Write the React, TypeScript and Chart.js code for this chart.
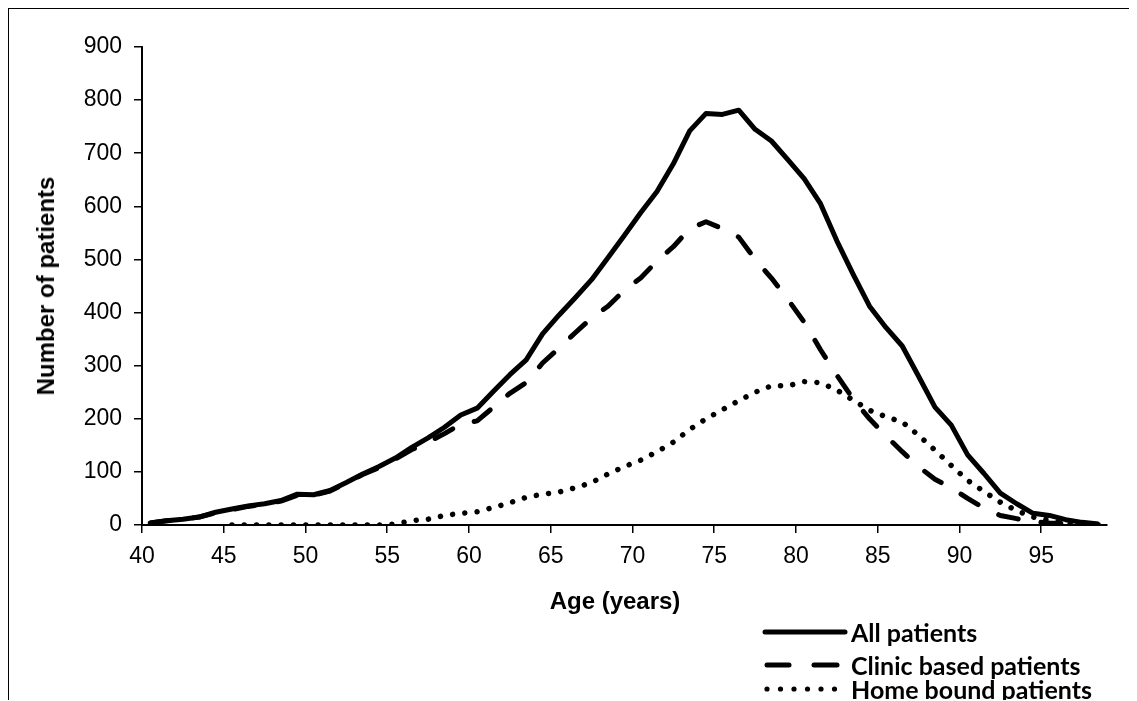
import React, { useEffect, useRef } from "react";
import { Chart, registerables } from "chart.js";

Chart.register(...registerables);

// Age (years), one value per year band
const ages = [
  40.5, 41.5, 42.5, 43.5, 44.5, 45.5, 46.5, 47.5, 48.5, 49.5,
  50.5, 51.5, 52.5, 53.5, 54.5, 55.5, 56.5, 57.5, 58.5, 59.5,
  60.5, 61.5, 62.5, 63.5, 64.5, 65.5, 66.5, 67.5, 68.5, 69.5,
  70.5, 71.5, 72.5, 73.5, 74.5, 75.5, 76.5, 77.5, 78.5, 79.5,
  80.5, 81.5, 82.5, 83.5, 84.5, 85.5, 86.5, 87.5, 88.5, 89.5,
  90.5, 91.5, 92.5, 93.5, 94.5, 95.5, 96.5, 97.5, 98.5,
];

const allPatients = [
  4, 8, 11, 15, 24, 30, 36, 40, 46, 58,
  57, 65, 80, 96, 110, 126, 146, 164, 184, 207,
  220, 252, 283, 311, 360, 395, 428, 462, 503, 545,
  588, 628, 680, 742, 775, 773, 781, 745, 723, 688,
  652, 605, 535, 472, 412, 372, 337, 280, 222, 188,
  132, 97, 60, 40, 22, 18, 10, 5, 2,
];

const clinicPatients = [
  4, 8, 11, 15, 23, 29, 35, 39, 45, 56,
  56, 64, 79, 95, 108, 124, 142, 156, 172, 190,
  196, 222, 248, 268, 305, 333, 362, 390, 412, 442,
  465, 497, 524, 558, 571, 558, 542, 500, 465, 425,
  382, 330, 282, 237, 200, 168, 138, 110, 86, 70,
  50, 32, 18, 12, 6, 4, 3, 2, 1,
];

const homePatients: (number | null)[] = [
  null, null, null, null, null, 0, 0, 0, 0, 0,
  0, 0, 0, 0, 0, 2, 8, 11, 18, 22,
  25, 33, 42, 52, 58, 62, 70, 80, 96, 110,
  122, 138, 156, 180, 200, 217, 234, 250, 262, 262,
  270, 268, 254, 235, 216, 204, 194, 169, 141, 112,
  84, 63, 43, 27, 15, 9, 3, 1, 0,
];

const seriesNames = ["All patients", "Clinic based patients", "Home bound patients"];

const xMin = 40;
const xMax = 99;
const xStep = 5;
const yMin = 0;
const yMax = 900;
const yStep = 100;

const axisFont = { family: "'Liberation Sans', Arial, sans-serif", size: 23 };
const titleFont = "bold 24px 'Liberation Sans', Arial, sans-serif";
const legendFont = "bold 25px Lato, 'Open Sans', sans-serif";

const toPoints = (values: (number | null)[]) =>
  ages.map((x, i) => ({ x, y: values[i] }));

const W = 1127;
const H = 691;

function LegendSample({ kind }: { kind: "solid" | "dash" | "dot" }) {
  return (
    <svg width={90} height={20} style={{ display: "block" }}>
      {kind === "solid" && (
        <line x1={6} y1={10} x2={86} y2={10} stroke="#000" strokeWidth={5} strokeLinecap="round" />
      )}
      {kind === "dash" && (
        <g stroke="#000" strokeWidth={5} strokeLinecap="round">
          <line x1={8} y1={10} x2={30} y2={10} />
          <line x1={55} y1={10} x2={78} y2={10} />
        </g>
      )}
      {kind === "dot" && (
        <g fill="#000">
          {[0, 1, 2, 3, 4, 5].map((k) => (
            <circle key={k} cx={8 + k * 13.5} cy={10} r={2.6} />
          ))}
        </g>
      )}
    </svg>
  );
}

export default function App() {
  const ref = useRef<HTMLCanvasElement>(null);

  useEffect(() => {
    document.documentElement.style.overflow = "hidden";
    document.body.style.overflow = "hidden";
    const canvas = ref.current;
    if (!canvas) return;

    const chart = new Chart(canvas, {
      type: "line",
      data: {
        datasets: [
          {
            label: seriesNames[0],
            data: toPoints(allPatients),
            borderColor: "#000",
            borderWidth: 5,
            borderJoinStyle: "round",
            pointRadius: 0,
            tension: 0,
          },
          {
            label: seriesNames[1],
            data: toPoints(clinicPatients),
            borderColor: "#000",
            borderWidth: 5,
            borderDash: [20, 23],
            borderCapStyle: "round",
            borderJoinStyle: "round",
            pointRadius: 0,
            tension: 0,
          },
          {
            label: seriesNames[2],
            data: toPoints(homePatients),
            borderColor: "#000",
            borderWidth: 5.5,
            borderDash: [0.01, 12.3],
            borderCapStyle: "round",
            borderJoinStyle: "round",
            pointRadius: 0,
            tension: 0,
          },
        ],
      },
      options: {
        animation: false,
        responsive: false,
        devicePixelRatio: 1,
        layout: { padding: { left: 0, top: 38, right: 29.4, bottom: 0 } },
        plugins: {
          legend: { display: false },
          tooltip: { enabled: false },
        },
        scales: {
          x: {
            type: "linear",
            min: xMin,
            max: xMax,
            ticks: {
              stepSize: xStep,
              includeBounds: false,
              color: "#000",
              font: axisFont,
              padding: 10,
              maxRotation: 0,
            },
            grid: {
              drawOnChartArea: false,
              drawTicks: true,
              tickLength: 8,
              color: "#000",
              lineWidth: 1.5,
            },
            border: { display: true, color: "#000", width: 2 },
            afterFit: (scale: any) => {
              scale.height = 175;
            },
          },
          y: {
            min: yMin,
            max: yMax,
            ticks: {
              stepSize: yStep,
              color: "#000",
              font: axisFont,
              padding: 12,
            },
            grid: {
              drawOnChartArea: false,
              drawTicks: true,
              tickLength: 8,
              color: "#000",
              lineWidth: 1.5,
            },
            border: { display: true, color: "#000", width: 2 },
            afterFit: (scale: any) => {
              scale.width = 133;
            },
          },
        },
      },
    });

    return () => chart.destroy();
  }, []);

  const legendRows: { kind: "solid" | "dash" | "dot"; top: number }[] = [
    { kind: "solid", top: 623 },
    { kind: "dash", top: 656 },
    { kind: "dot", top: 680 },
  ];

  return (
    <div
      style={{
        position: "relative",
        width: W,
        height: H,
        borderLeft: "1.5px solid #000",
        borderTop: "1.5px solid #000",
        background: "#fff",
      }}
    >
      <canvas ref={ref} width={W} height={H} style={{ position: "absolute", left: 0, top: 0 }} />
      <div
        style={{
          position: "absolute",
          left: 37,
          top: 277,
          transform: "translate(-50%, -50%) rotate(-90deg)",
          whiteSpace: "nowrap",
          font: titleFont,
          color: "#000",
        }}
      >
        Number of patients
      </div>
      <div
        style={{
          position: "absolute",
          left: 606,
          top: 592,
          transform: "translate(-50%, -50%)",
          whiteSpace: "nowrap",
          font: titleFont,
          color: "#000",
        }}
      >
        Age (years)
      </div>
      {legendRows.map((row, i) => (
        <div
          key={seriesNames[i]}
          style={{
            position: "absolute",
            left: 750,
            top: row.top,
            transform: "translateY(-50%)",
            display: "flex",
            alignItems: "center",
            whiteSpace: "nowrap",
          }}
        >
          <LegendSample kind={row.kind} />
          <span style={{ font: legendFont, color: "#000", marginLeft: 2, lineHeight: "28px" }}>
            {seriesNames[i]}
          </span>
        </div>
      ))}
    </div>
  );
}
